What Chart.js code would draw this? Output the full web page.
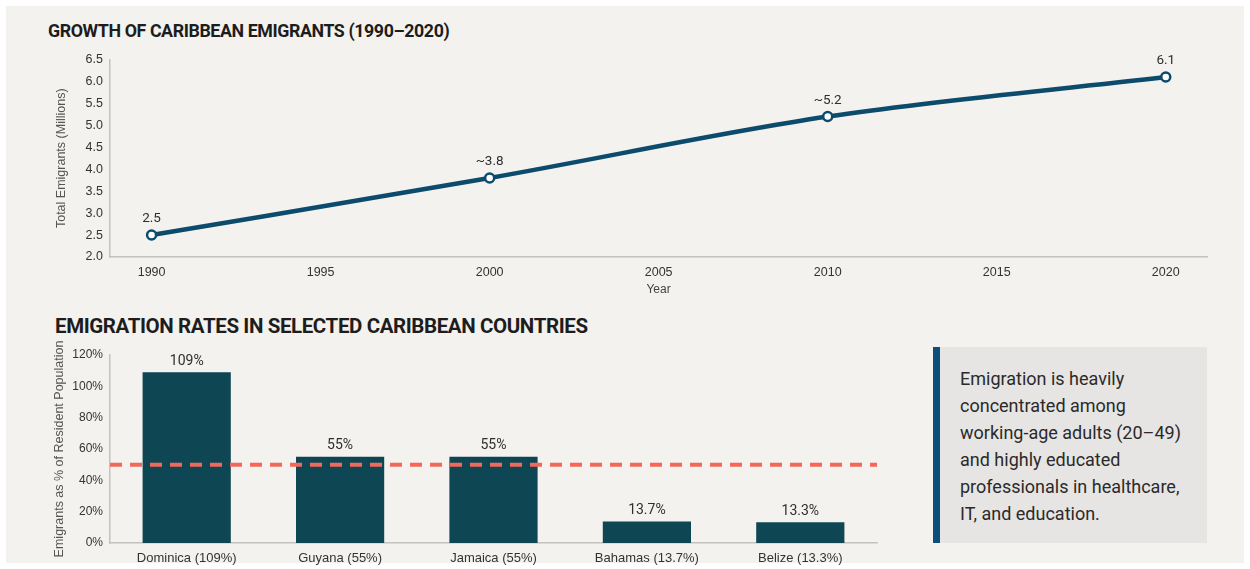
<!DOCTYPE html>
<html>
<head>
<meta charset="utf-8">
<script src="https://cdn.jsdelivr.net/npm/chart.js@4.4.1/dist/chart.umd.min.js"></script>
<style>
  html, body { margin: 0; padding: 0; background: #fff; }
  body { width: 1250px; height: 569px; position: relative; overflow: hidden; font-family: Roboto, "Noto Sans", sans-serif; }
  #panel { position: absolute; left: 6px; top: 6px; width: 1238px; height: 557px; background: #f4f2ee; }
  .title { position: absolute; font-weight: 700; color: #1d1d1d; letter-spacing: -0.4px; white-space: nowrap; }
  canvas { position: absolute; left: 0; }
  #note {
    position: absolute; left: 933px; top: 347px; width: 247px; height: 178px;
    background: #e6e5e4; border-left: 7px solid #0d4f7a;
    padding: 18px 0 0 20px; color: #2a2a2a; font-size: 18px; line-height: 27px;
  }
</style>
</head>
<body>
<div id="panel"></div>
<div class="title" style="left:48px; top:20px; font-size:17.8px;">GROWTH OF CARIBBEAN EMIGRANTS (1990–2020)</div>
<canvas id="growth" width="1250" height="252" style="top:45px"></canvas>
<div class="title" style="left:55px; top:314px; font-size:20.5px;">EMIGRATION RATES IN SELECTED CARIBBEAN COUNTRIES</div>
<canvas id="rates" width="900" height="229" style="top:340px"></canvas>
<div id="note">Emigration is heavily<br>concentrated among<br>working-age adults (20–49)<br>and highly educated<br>professionals in healthcare,<br>IT, and education.</div>

<script>
// growth series
var years = [1990, 2000, 2010, 2020];
var emigrants = [2.5, 3.8, 5.2, 6.1];
var emigrantLabels = ["2.5", "~3.8", "~5.2", "6.1"];
var yearTicks = [1990, 1995, 2000, 2005, 2010, 2015, 2020];

// emigration rates
var countries = ["Dominica (109%)", "Guyana (55%)", "Jamaica (55%)", "Bahamas (13.7%)", "Belize (13.3%)"];
var rates = [109, 55, 55, 13.7, 13.3];
var rateLabels = ["109%", "55%", "55%", "13.7%", "13.3%"];
var refRate = 50;

var LINE_COLOR = "#0c4b6c";
var BAR_COLOR = "#0e4653";
var AXIS_COLOR = "#c4c2bf";
var TICK_COLOR = "#333";

// writes a text above each element of dataset 0
function valueLabels(id, texts, offset, size) {
    return {
        id: id,
        afterDatasetsDraw: function (chart) {
            var ctx = chart.ctx;
            var meta = chart.getDatasetMeta(0);
            ctx.save();
            ctx.font = size + "px Roboto";
            ctx.fillStyle = "#2e2e2e";
            ctx.textAlign = "center";
            ctx.textBaseline = "middle";
            meta.data.forEach(function (el, i) {
                ctx.fillText(texts[i], el.x, el.y - offset);
            });
            ctx.restore();
        }
    };
}

var refLine = {
    id: "refLine",
    afterDatasetsDraw: function (chart) {
        var ctx = chart.ctx, area = chart.chartArea;
        var y = chart.scales.y.getPixelForValue(refRate);
        ctx.save();
        ctx.strokeStyle = "#f1695b";
        ctx.lineWidth = 4;
        ctx.setLineDash([12, 8]);
        ctx.beginPath();
        ctx.moveTo(area.left, y);
        ctx.lineTo(area.right, y);
        ctx.stroke();
        ctx.restore();
    }
};

new Chart(document.getElementById("growth").getContext("2d"), {
    type: "line",
    data: {
        datasets: [{
            data: years.map(function (y, i) { return { x: y, y: emigrants[i] }; }),
            borderColor: LINE_COLOR,
            borderWidth: 4.5,
            cubicInterpolationMode: "monotone",
            pointRadius: 4.5,
            pointBorderWidth: 2.5,
            pointBackgroundColor: "#fff",
            pointBorderColor: LINE_COLOR,
            fill: false
        }]
    },
    options: {
        responsive: false,
        animation: false,
        layout: { padding: { left: 50, right: 43, top: 12, bottom: 0 } },
        plugins: { legend: { display: false }, tooltip: { enabled: false } },
        scales: {
            x: {
                type: "linear",
                min: 1988.77,
                max: 2021.22,
                afterBuildTicks: function (axis) {
                    axis.ticks = yearTicks.map(function (v) { return { value: v }; });
                },
                ticks: { padding: 8, color: TICK_COLOR, font: { size: 12.5 }, callback: function (v) { return String(v); } },
                grid: { display: false, drawTicks: false },
                border: { color: AXIS_COLOR, width: 1.5 },
                title: { display: true, text: "Year", color: "#444", font: { size: 12 }, padding: 0 },
                afterFit: function (axis) { axis.height = 40; }
            },
            y: {
                min: 2.0,
                max: 6.5,
                ticks: { stepSize: 0.5, padding: 7, color: TICK_COLOR, font: { size: 12.5 }, callback: function (v) { return v.toFixed(1); } },
                grid: { display: false, drawTicks: false },
                border: { color: AXIS_COLOR, width: 1.5 },
                title: { display: true, text: "Total Emigrants (Millions)", color: "#555", font: { size: 12.5 }, padding: { top: 4.5, bottom: 0 } },
                afterFit: function (axis) { axis.width = 60; }
            }
        }
    },
    plugins: [valueLabels("growthLabels", emigrantLabels, 16, 13.5)]
});

new Chart(document.getElementById("rates").getContext("2d"), {
    type: "bar",
    data: {
        labels: countries,
        datasets: [{
            data: rates,
            backgroundColor: BAR_COLOR,
            barPercentage: 0.575,
            categoryPercentage: 1
        }]
    },
    options: {
        responsive: false,
        animation: false,
        layout: { padding: { left: 50, right: 23, top: 15, bottom: 0 } },
        plugins: { legend: { display: false }, tooltip: { enabled: false } },
        scales: {
            x: {
                ticks: { padding: 8, color: TICK_COLOR, font: { size: 13 } },
                grid: { display: false, drawTicks: false },
                border: { color: AXIS_COLOR, width: 1.5 },
                afterFit: function (axis) { axis.height = 26; }
            },
            y: {
                min: 0,
                max: 120,
                ticks: { stepSize: 20, padding: 7, color: TICK_COLOR, font: { size: 12 }, callback: function (v) { return v + "%"; } },
                grid: { display: false, drawTicks: false },
                border: { color: AXIS_COLOR, width: 1.5 },
                title: { display: true, text: "Emigrants as % of Resident Population", color: "#555", font: { size: 12.5 }, padding: { top: 2.5, bottom: 0 } },
                afterFit: function (axis) { axis.width = 60; }
            }
        }
    },
    plugins: [refLine, valueLabels("rateLabels", rateLabels, 11, 14)]
});
</script>
</body>
</html>
